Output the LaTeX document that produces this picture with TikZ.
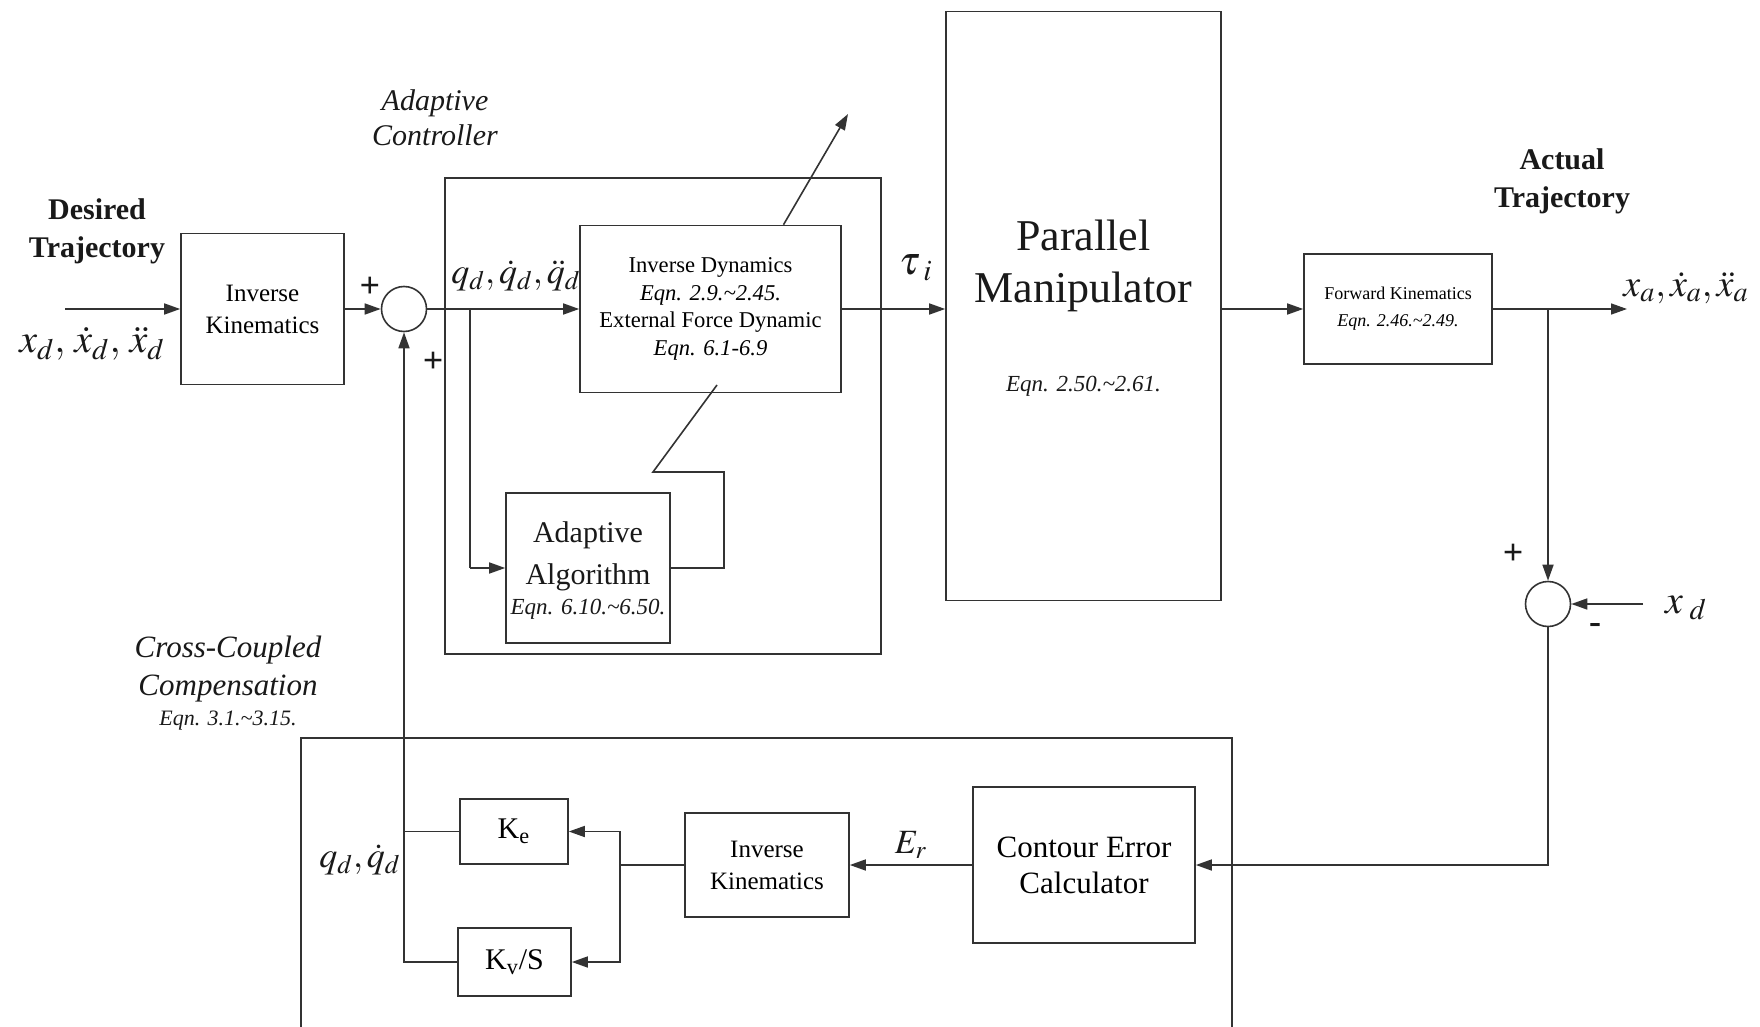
\documentclass[tikz,border=0pt]{standalone}
\usepackage{mathptmx}
\usepackage[no-math]{fontspec}
\setmainfont{Liberation Serif}
\usetikzlibrary{arrows.meta,calc}
\newcommand\fsz[2]{\fontsize{#1}{#2}\selectfont}
\begin{document}
\begin{tikzpicture}[x=0.5pt,y=-0.5pt,
  blk/.style={draw=black!80, line width=0.8pt, fill=white, inner sep=0pt, align=center},
  frame/.style={draw=black!80, line width=0.8pt, inner sep=0pt},
  sumc/.style={circle, draw=black!80, line width=0.8pt, fill=white, minimum size=22.5pt, inner sep=0pt},
  arr/.style={-{Triangle[length=8pt,width=5.5pt]}, line width=0.8pt, draw=black!80},
  ln/.style={line width=0.8pt, draw=black!80},
  lbl/.style={inner sep=0pt, align=center, text=black!90},
  sgn/.style={inner sep=0pt, font=\fsz{18pt}{18pt}\bfseries, text=black!90}]
\useasboundingbox (0,0) rectangle (1760,1027);

% ---------- forward path ----------
\node[lbl, font=\fsz{15pt}{19pt}\bfseries] (desired) at (97,231) {Desired\\Trajectory};
\coordinate (in) at (65,309);
\node[lbl, font=\fsz{20pt}{24pt}] (xdlbl) at (92,344) {$x_d,\,\dot{x}_d,\,\ddot{x}_d$};
\node[blk, minimum width=81.5pt, minimum height=75.5pt, font=\fsz{12.5pt}{16pt}] (ik1) at (262.5,309) {Inverse\\Kinematics};
\node[sumc] (s1) at (404,309) {};
\node[sgn] (p1) at (370,287) {+};
\node[sgn] (p2) at (433,362) {+};

% adaptive controller
\node[frame, minimum width=218pt, minimum height=238pt] (ac) at (663,416) {};
\node[lbl, font=\fsz{15pt}{17.5pt}\itshape] (aclbl) at (435,118) {Adaptive\\Controller};
\node[blk, minimum width=130.5pt, minimum height=83.5pt, font=\fsz{11.3pt}{13.75pt}] (id) at (710.5,309)
  {Inverse Dynamics\\\textit{Eqn. 2.9.\textasciitilde 2.45.}\\External Force Dynamic\\\textit{Eqn. 6.1-6.9}};
\node[lbl, font=\fsz{18pt}{20pt}] (qlbl) at (516,276) {$q_d,\dot{q}_d,\ddot{q}_d$};
\node[blk, minimum width=82pt, minimum height=75pt] (aa) at (588,568) {};
\node[lbl, font=\fsz{15pt}{21pt}] (aatxt) at (588,556) {Adaptive\\Algorithm};
\node[lbl, font=\fsz{11.5pt}{14pt}\itshape] (aaeq) at (588,609) {Eqn. 6.10.\textasciitilde 6.50.};

% manipulator
\node[blk, minimum width=137.5pt, minimum height=294.5pt] (pm) at (1083.5,306) {};
\node[lbl, font=\fsz{22pt}{26pt}] (pmtxt) at (1083.5,266) {Parallel\\Manipulator};
\node[lbl, font=\fsz{11.5pt}{14pt}\itshape] (pmeq) at (1083.5,386) {Eqn. 2.50.\textasciitilde 2.61.};
\node[lbl, font=\fsz{20pt}{20pt}] (tau) at (916,268) {$\tau_{\;i}$};

% forward kinematics and output
\node[blk, minimum width=94pt, minimum height=55pt, font=\fsz{9pt}{13.5pt}] (fk) at (1398,309)
  {Forward Kinematics\\\textit{Eqn. 2.46.\textasciitilde 2.49.}};
\node[lbl, font=\fsz{15pt}{19pt}\bfseries] (actual) at (1562,181) {Actual\\Trajectory};
\node[lbl, font=\fsz{19pt}{20pt}] (xalbl) at (1686,288) {$x_a,\dot{x}_a,\ddot{x}_a$};
\coordinate (xaout) at (1627,309);
\coordinate (b2) at (1548,309);
\node[sumc] (s2) at (1548,604) {};
\node[sgn] (p3) at (1513,554) {+};
\node[sgn] (m3) at (1595,628) {-};
\coordinate (xdin) at (1643,604);
\node[lbl, font=\fsz{20pt}{20pt}] (xdr) at (1686,608) {$x_{\;d}$};

% ---------- cross-coupled compensation ----------
\draw[ln] (301,1027) |- (1232,738) -- (1232,1027);
\node[lbl, font=\fsz{15.5pt}{19pt}\itshape] (cclbl) at (228,669) {Cross-Coupled\\Compensation};
\node[lbl, font=\fsz{11pt}{13pt}\itshape] (cceq) at (228,721) {Eqn. 3.1.\textasciitilde 3.15.};
\node[blk, minimum width=111pt, minimum height=78pt, font=\fsz{15.5pt}{18pt}] (cec) at (1084,865) {Contour Error\\Calculator};
\node[blk, minimum width=82pt, minimum height=52pt, font=\fsz{12.5pt}{16pt}] (ik2) at (767,865) {Inverse\\Kinematics};
\node[lbl, font=\fsz{17pt}{17pt}] (erlbl) at (911,845) {$E_r$};
\node[blk, minimum width=54pt, minimum height=32.5pt, font=\fsz{15pt}{17pt}] (ke) at (514,831.5) {K\textsubscript{e}};
\node[blk, minimum width=56.5pt, minimum height=34pt, font=\fsz{15pt}{17pt}] (kv) at (514.5,962) {K\textsubscript{v}/S};
\node[lbl, font=\fsz{18pt}{20pt}] (qbl) at (360,860) {$q_d,\dot{q}_d$};

% ---------- connectors ----------
\draw[arr] (in) -- (ik1.west);
\draw[arr] (ik1.east) -- (s1.west);
\draw[arr] (s1.east) -- (id.west);
\coordinate (b1) at (470,309);
\draw[ln] (b1) -- (b1 |- aa.west);
\draw[arr] (b1 |- aa.west) -- (aa.west);
\coordinate (a1) at (724,472);
\coordinate (a2) at (653,472);
\coordinate (a3) at (717,385);
\draw[ln] (aa.east) -| (a1) -- (a2) -- (a3);
\coordinate (d1) at ($(id.north west)!0.778!(id.north east)$);
\coordinate (d2) at (848,114);
\draw[arr] (d1) -- (d2);
\draw[arr] (id.east) -- (id.east -| pm.west);
\draw[arr] (pm.east |- fk.west) -- (fk.west);
\draw[arr] (fk.east) -- (xaout);
\draw[arr] (b2) -- (s2.north);
\draw[arr] (xdin) -- (s2.east);
\draw[arr] (s2.south) |- (cec.east);
\draw[arr] (cec.west) -- (ik2.east);
\coordinate (b3) at (620,865);
\draw[ln] (ik2.west) -- (b3);
\draw[arr] (b3) |- (ke.east);
\draw[arr] (b3) |- (kv.east);
\draw[ln] (ke.west) -- (ke.west -| s1.south);
\draw[arr] (kv.west) -| (s1.south);
\end{tikzpicture}
\end{document}
